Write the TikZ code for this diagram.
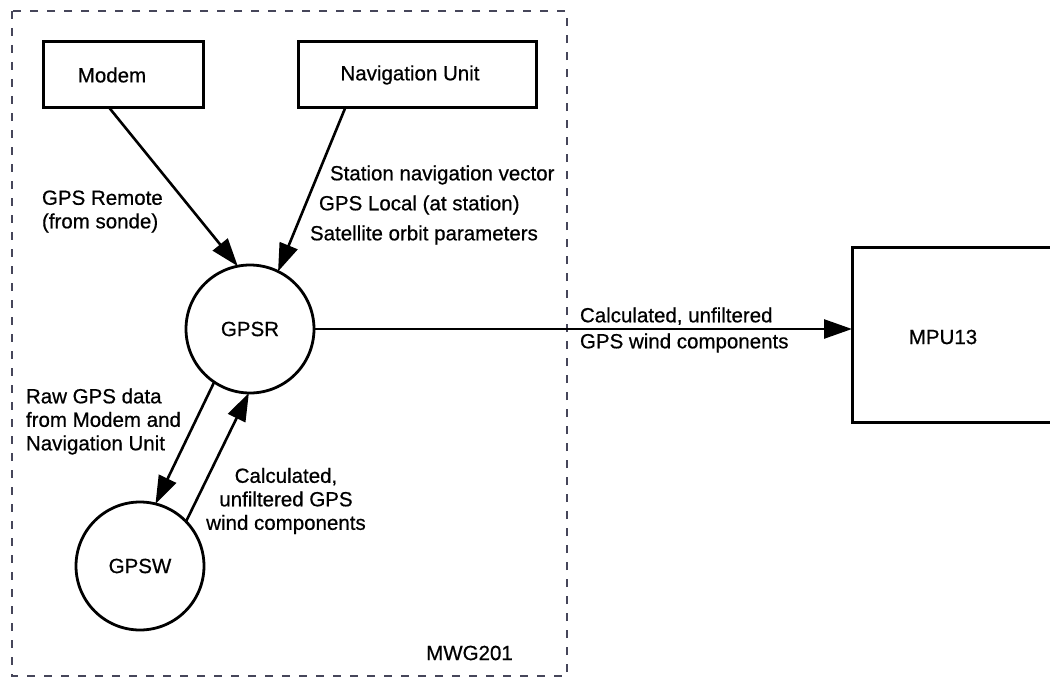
\documentclass[tikz,border=0pt]{standalone}
\usepackage{fontspec}
\setmainfont{Liberation Sans}[FakeBold=0.6]
\usetikzlibrary{arrows.meta,calc}

\begin{document}
\begin{tikzpicture}[x=1pt,y=-1pt,
  every node/.style={inner sep=0pt, outer sep=0pt},
  lbl/.style={font=\fontsize{20.5}{23.5}\selectfont},
  procbox/.style={draw, line width=3pt, rectangle},
  proc/.style={draw, line width=2.8pt, circle, minimum size=128pt,
               font=\fontsize{20.5}{23.5}\selectfont},
  flow/.style={line width=2.6pt, -{Triangle[length=28pt,width=19pt]}},
  boundary/.style={draw={rgb,255:red,70;green,70;blue,90}, line width=1.6pt,
                   dash pattern=on 8pt off 9pt}]

  \useasboundingbox (0,0) rectangle (1050,677);
  \clip (0,0) rectangle (1050,677);

  % subsystem boundary
  \draw[boundary] (12,11) rectangle (567,676);

  % external units
  \node[procbox, minimum width=160pt, minimum height=65pt] (modem) at (123,74.5) {};
  \node[lbl] (tmodem) at (112,75) {Modem};
  \node[procbox, minimum width=238pt, minimum height=65pt] (nav) at (417,74.5) {};
  \node[lbl] (tnav) at (410,75) {Navigation Unit};
  \node[procbox, minimum width=230pt, minimum height=175pt] (mpu) at (967,334.5) {};
  \node[lbl] (tmpu) at (943,337) {MPU13};

  % processes
  \node[proc] (gpsr) at (250,329) {GPSR};
  \node[proc] (gpsw) at (140,566) {GPSW};

  % data flows
  \draw[flow] ($(modem.south west)!0.41!(modem.south east)$) -- (gpsr.101.5);
  \draw[flow] ($(nav.south west)!0.2!(nav.south east)$) -- (gpsr.64.6);
  \draw[flow] (gpsr.236.6) -- (gpsw.76);
  \draw[flow] (gpsw.44.4) -- (gpsr.269);
  \draw[flow] (gpsr.east) -- (gpsr.east -| mpu.west);

  % flow labels
  \node[lbl, anchor=west, align=left] (lremote) at (42,211.5) {GPS Remote\\(from sonde)};
  \node[lbl, anchor=west] (lnav1) at (330,175) {Station navigation vector};
  \node[lbl, anchor=west] (lnav2) at (319,205) {GPS Local (at station)};
  \node[lbl, anchor=west] (lnav3) at (310,235) {Satellite orbit parameters};
  \node[lbl, anchor=west, align=left] (lraw) at (26,421.5)
    {Raw GPS data\\from Modem and\\Navigation Unit};
  \node[lbl, align=center] (lcalc) at (286,501)
    {Calculated,\\unfiltered GPS\\wind components};
  \node[lbl, anchor=west, align=left, font=\fontsize{20.5}{26}\selectfont] (lout) at (580,330)
    {Calculated, unfiltered\\GPS wind components};
  \node[lbl] (lsys) at (469.5,653) {MWG201};
\end{tikzpicture}
\end{document}
